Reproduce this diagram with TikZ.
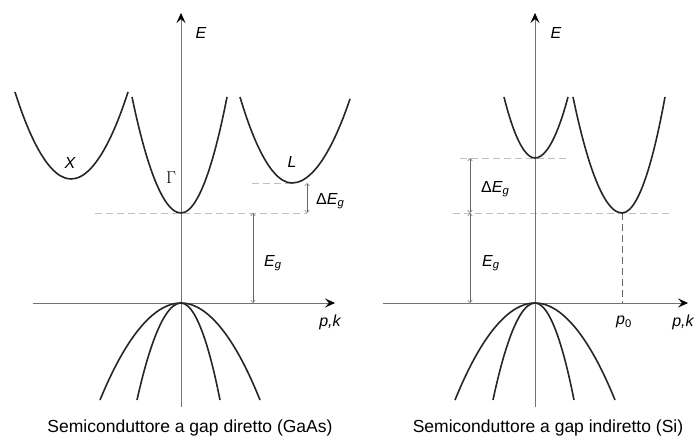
\documentclass[tikz,border=0pt]{standalone}
\usepackage{fontspec}
\setmainfont{Liberation Sans}
\usetikzlibrary{arrows.meta}

\begin{document}
\begin{tikzpicture}[
  x=1pt, y=-1pt,
  font=\fontsize{16}{18}\selectfont\itshape,
  axarr/.style={-{Stealth[length=10pt, width=9pt, inset=4pt, black]}, draw=black!55, line width=0.5pt},
  band/.style={line width=1.6pt, draw=black!85},
  lvl/.style={draw=black!25, line width=0.5pt, dash pattern=on 7pt off 4pt},
  gaparr/.style={{Straight Barb[length=2.5pt, width=4.5pt]}-{Straight Barb[length=2.5pt, width=4.5pt]}, draw=black!60, line width=0.45pt},
  lbl/.style={inner sep=1pt},
  capt/.style={font=\fontsize{17.5}{20}\selectfont\upshape, inner sep=0pt},
]
\useasboundingbox (0,0) rectangle (699,436);

% left panel: direct gap (GaAs)
\coordinate (gamL) at (181,213);
\coordinate (vbL) at (181,303);
\coordinate (xmin) at (71,179);
\coordinate (lmin) at (292,183);
\coordinate (axbotL) at (181,407);
\coordinate (axtopL) at (181,13);
\coordinate (pkbegL) at (33,303);
\coordinate (pkendL) at (335,303);
\coordinate (lvlbegL) at (95,213);
\coordinate (lvlendL) at (307,213);
\coordinate (lvlbegLb) at (252,183);
\coordinate (dgtopL) at (307,183);
\coordinate (dgbotL) at (307,213);
\coordinate (egtopL) at (253,213);
\coordinate (egbotL) at (253,303);

\draw[lvl] (lvlbegL) -- (lvlendL);
\draw[lvl] (lvlbegLb) -- (lmin);
\draw[axarr] (axbotL) -- (axtopL);
\draw[axarr] (pkbegL) -- (pkendL);

\draw[band] (15,92) parabola bend (xmin) (128,92);
\draw[band] (132,97) parabola bend (gamL) (227,97);
\draw[band] (240,97) parabola bend (lmin) (350,99);
\draw[band] (100,400) parabola bend (vbL) (260,400);
\draw[band] (137,400) parabola bend (vbL) (220,400);

\draw[gaparr] (dgtopL) -- (dgbotL);
\draw[gaparr] (egtopL) -- (egbotL);

\node[lbl] (eL) at (201,33) {E};
\node[lbl] (pkL) at (330,322) {p,k};
\node[lbl] (xlbl) at (70,163) {X};
\node[lbl] (llbl) at (292,162) {L};
\node[lbl] (gamlbl) at (171,178) {$\Gamma$};
\node[lbl, anchor=west] (dglblL) at (315,201) {{\upshape Δ}E\textsubscript{g}};
\node[lbl, anchor=west] (eglblL) at (263,263) {E\textsubscript{g}};
\node[capt] (captL) at (190,428) {Semiconduttore a gap diretto (GaAs)};

% right panel: indirect gap (Si)
\coordinate (gamR) at (535,158);
\coordinate (vbR) at (535,303);
\coordinate (p0min) at (622,213);
\coordinate (axbotR) at (535,407);
\coordinate (axtopR) at (535,13);
\coordinate (pkbegR) at (383,303);
\coordinate (pkendR) at (688,303);
\coordinate (lvlbegR) at (460,158);
\coordinate (lvlendR) at (568,158);
\coordinate (lvlbegRb) at (453,213);
\coordinate (lvlendRb) at (670,213);
\coordinate (p0foot) at (622,303);
\coordinate (dgtopR) at (470,158);
\coordinate (dgbotR) at (470,213);
\coordinate (egbotR) at (470,303);

\draw[lvl] (lvlbegR) -- (lvlendR);
\draw[lvl] (lvlbegRb) -- (lvlendRb);
\draw[lvl, draw=black!60] (p0min) -- (p0foot);
\draw[axarr] (axbotR) -- (axtopR);
\draw[axarr] (pkbegR) -- (pkendR);

\draw[band] (504,97) parabola bend (gamR) (568,97);
\draw[band] (573,97) parabola bend (p0min) (665,97);
\draw[band] (455,400) parabola bend (vbR) (615,400);
\draw[band] (493,400) parabola bend (vbR) (574,400);

\draw[gaparr] (dgtopR) -- (dgbotR);
\draw[gaparr] (dgbotR) -- (egbotR);

\node[lbl] (eR) at (556,33) {E};
\node[lbl] (pkR) at (683,322) {p,k};
\node[lbl] (p0lbl) at (624,322) {p\textsubscript{\upshape 0}};
\node[lbl, anchor=west] (dglblR) at (480,189) {{\upshape Δ}E\textsubscript{g}};
\node[lbl, anchor=west] (eglblR) at (481,263) {E\textsubscript{g}};
\node[capt] (captR) at (548,428) {Semiconduttore a gap indiretto (Si)};
\end{tikzpicture}
\end{document}
